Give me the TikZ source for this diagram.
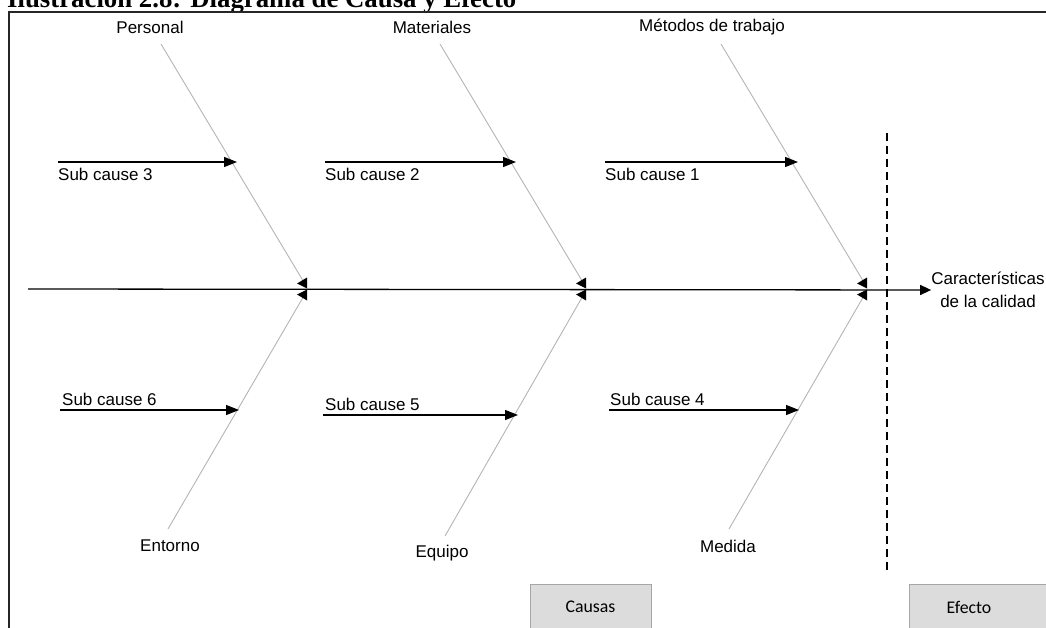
\documentclass[tikz,border=0pt]{standalone}
\usepackage{fontspec}
\setmainfont{Liberation Sans}
\newfontfamily\boxfont{Carlito}
\newfontfamily\titlefont{Liberation Serif}
\usetikzlibrary{arrows.meta}

\definecolor{bonegray}{HTML}{B4B4B4}
\definecolor{boxfill}{HTML}{DCDCDC}
\definecolor{boxline}{HTML}{A6A6A6}

\tikzset{
  lbl/.style={font=\fontsize{17}{20}\selectfont, inner sep=0pt},
  bone/.style={draw=bonegray, line width=0.9pt},
  subarrow/.style={draw=black, line width=1.1pt, -{Triangle[length=13pt,width=10pt]}},
  spine/.style={draw=black, line width=1.3pt, -{Triangle[length=11pt,width=10pt]}},
  divider/.style={draw=black, line width=1.2pt, dash pattern=on 8pt off 5pt},
  tagbox/.style={fill=boxfill, draw=boxline, line width=1pt},
  tagtext/.style={font=\boxfont\fontsize{17.8}{20}\selectfont, inner sep=0pt},
  jmark/.pic={
    \fill[black] (-10,-5.5) -- (0,-11.5) -- (0,-0.5) -- cycle;
    \fill[black] (-10,5.5) -- (0,0.5) -- (0,11.5) -- cycle;
  }
}

\begin{document}
\begin{tikzpicture}[x=1pt, y=-1pt]
  \useasboundingbox (0,0) rectangle (1046,628);
  \clip (0,0) rectangle (1046,628);

  % caption above the frame (its upper part lies outside the page)
  \node[anchor=base west, inner sep=0pt, font=\titlefont\bfseries\fontsize{26.8}{30}\selectfont]
    (caption) at (7,8) {Ilustración 2.8: Diagrama de Causa y Efecto};

  % frame
  \draw[line width=1.8pt, black!85] (9,640) -- (9,12) -- (1060,12);

  % junctions on the spine
  \coordinate (j1) at (307,289);
  \coordinate (j2) at (586,289);
  \coordinate (j3) at (867,289);

  % category labels
  \node[lbl] (personal)   at (150,27)  {Personal};
  \node[lbl] (materiales) at (432,27)  {Materiales};
  \node[lbl] (metodos)    at (712,27)  {Métodos de trabajo};
  \node[lbl] (entorno)    at (170,546) {Entorno};
  \node[lbl] (equipo)     at (442,553) {Equipo};
  \node[lbl] (medida)     at (728,546) {Medida};

  % bone ends
  \coordinate (t1) at (161,44);
  \coordinate (t2) at (440,44);
  \coordinate (t3) at (721,44);
  \coordinate (b1) at (168,529);
  \coordinate (b2) at (445,536);
  \coordinate (b3) at (729,529);
  \coordinate (u1) at (305,284);
  \coordinate (u2) at (584,284);
  \coordinate (u3) at (865,284);
  \coordinate (l1) at (305,294);
  \coordinate (l2) at (584,294);
  \coordinate (l3) at (865,294);

  % bones
  \draw[bone] (t1) -- (u1);
  \draw[bone] (t2) -- (u2);
  \draw[bone] (t3) -- (u3);
  \draw[bone] (l1) -- (b1);
  \draw[bone] (l2) -- (b2);
  \draw[bone] (l3) -- (b3);

  % spine and effect
  \node[lbl, align=center, font=\fontsize{17}{23.5}\selectfont] (effect) at (988,290)
    {Características\\de la calidad};
  \coordinate (s0) at (28,289);
  \draw[spine] (s0) -- (effect.west);

  \pic at (j1) {jmark};
  \pic at (j2) {jmark};
  \pic at (j3) {jmark};

  % sub causes, upper row
  \coordinate (a3) at (58,162);   \coordinate (h3) at (237,162);
  \coordinate (a2) at (325,162);  \coordinate (h2) at (516,162);
  \coordinate (a1) at (605,162);  \coordinate (h1) at (798,162);
  \draw[subarrow] (a3) -- (h3);
  \draw[subarrow] (a2) -- (h2);
  \draw[subarrow] (a1) -- (h1);
  \node[lbl, anchor=base west] (sc3) at (58,181)  {Sub cause 3};
  \node[lbl, anchor=base west] (sc2) at (325,181) {Sub cause 2};
  \node[lbl, anchor=base west] (sc1) at (605,181) {Sub cause 1};

  % sub causes, lower row
  \coordinate (a6) at (60,410);   \coordinate (h6) at (239,410);
  \coordinate (a5) at (323,415);  \coordinate (h5) at (518,415);
  \coordinate (a4) at (609,410);  \coordinate (h4) at (799,410);
  \draw[subarrow] (a6) -- (h6);
  \draw[subarrow] (a5) -- (h5);
  \draw[subarrow] (a4) -- (h4);
  \node[lbl, anchor=base west] (sc6) at (62,405)  {Sub cause 6};
  \node[lbl, anchor=base west] (sc5) at (325,410) {Sub cause 5};
  \node[lbl, anchor=base west] (sc4) at (610,405) {Sub cause 4};

  % divider between causes and effect
  \coordinate (d0) at (887,133);
  \coordinate (d1) at (887,574);
  \draw[divider] (d0) -- (d1);

  % bottom tags
  \draw[tagbox] (530,584) rectangle (651,640);
  \node[tagtext] (causas) at (590.5,607) {Causas};
  \draw[tagbox] (909,584) rectangle (1060,640);
  \node[tagtext] (efecto) at (969,607) {Efecto};
\end{tikzpicture}
\end{document}
